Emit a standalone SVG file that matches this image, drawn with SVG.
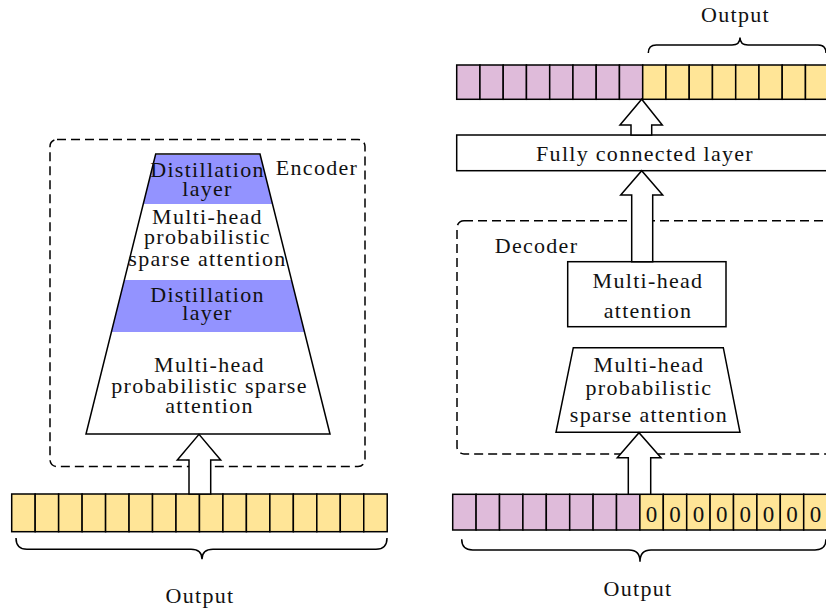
<svg xmlns="http://www.w3.org/2000/svg" width="826" height="612" viewBox="0 0 826 612">
<style>
text{font-family:"Liberation Serif","Times New Roman",serif;font-size:22px;fill:#111;text-anchor:middle;letter-spacing:1.3px}
.st{fill:none;stroke:#000;stroke-width:1.5}
.box{fill:#fff;stroke:#000;stroke-width:1.5}
.dash{fill:none;stroke:#000;stroke-width:1.5;stroke-dasharray:9 5}
.y{fill:#FFE597;stroke:#000;stroke-width:1.5}
.p{fill:#DFBBDA;stroke:#000;stroke-width:1.5}
.blue{fill:#9393FF}
.arr{fill:#fff;stroke:#000;stroke-width:1.5;stroke-linejoin:miter}
.br{fill:none;stroke:#000;stroke-width:1.5}
</style>
<defs>
<clipPath id="trapClip"><polygon points="155.7,154 260,154 330,434 86,434"/></clipPath>
</defs>

<g id="encoder">
<rect class="dash" x="50" y="139.5" width="315" height="327" rx="7"/>
<text x="317" y="175">Encoder</text>
</g>

<g id="decoder">
<rect class="dash" x="457" y="220.7" width="400" height="233.3" rx="7"/>
<text x="536.5" y="253.3">Decoder</text>
</g>

<g id="encoder-stack">
<polygon points="155.7,154 260,154 330,434 86,434" fill="#fff"/>
<g clip-path="url(#trapClip)">
<rect class="blue" x="80" y="155" width="260" height="49"/>
<rect class="blue" x="80" y="280" width="260" height="52"/>
</g>
<polygon class="st" points="155.7,154 260,154 330,434 86,434"/>
<text x="207.5" y="176.7">Distillation</text>
<text x="207.5" y="195.7">layer</text>
<text x="207.5" y="224.3">Multi-head</text>
<text x="207.5" y="244.3">probabilistic</text>
<text x="207.5" y="266">sparse attention</text>
<text x="207.5" y="301.7">Distillation</text>
<text x="207.5" y="320">layer</text>
<text x="209.5" y="371.7">Multi-head</text>
<text x="209.5" y="393.3">probabilistic sparse</text>
<text x="209.5" y="412.7">attention</text>
</g>

<g id="left-input">
<rect class="y" x="11.7" y="494" width="23.47" height="37.7"/>
<rect class="y" x="35.17" y="494" width="23.47" height="37.7"/>
<rect class="y" x="58.64" y="494" width="23.47" height="37.7"/>
<rect class="y" x="82.11" y="494" width="23.47" height="37.7"/>
<rect class="y" x="105.58" y="494" width="23.47" height="37.7"/>
<rect class="y" x="129.05" y="494" width="23.47" height="37.7"/>
<rect class="y" x="152.52" y="494" width="23.47" height="37.7"/>
<rect class="y" x="175.99" y="494" width="23.47" height="37.7"/>
<rect class="y" x="199.46" y="494" width="23.47" height="37.7"/>
<rect class="y" x="222.93" y="494" width="23.47" height="37.7"/>
<rect class="y" x="246.4" y="494" width="23.47" height="37.7"/>
<rect class="y" x="269.87" y="494" width="23.47" height="37.7"/>
<rect class="y" x="293.34" y="494" width="23.47" height="37.7"/>
<rect class="y" x="316.81" y="494" width="23.47" height="37.7"/>
<rect class="y" x="340.28" y="494" width="23.47" height="37.7"/>
<rect class="y" x="363.75" y="494" width="23.47" height="37.7"/>
<text x="200" y="603.3">Output</text>
</g>

<g id="top-output">
<rect class="p" x="456.7" y="65" width="23.25" height="34.3"/>
<rect class="p" x="479.95" y="65" width="23.25" height="34.3"/>
<rect class="p" x="503.2" y="65" width="23.25" height="34.3"/>
<rect class="p" x="526.45" y="65" width="23.25" height="34.3"/>
<rect class="p" x="549.7" y="65" width="23.25" height="34.3"/>
<rect class="p" x="572.95" y="65" width="23.25" height="34.3"/>
<rect class="p" x="596.2" y="65" width="23.25" height="34.3"/>
<rect class="p" x="619.45" y="65" width="23.25" height="34.3"/>
<rect class="y" x="642.7" y="65" width="23.25" height="34.3"/>
<rect class="y" x="665.95" y="65" width="23.25" height="34.3"/>
<rect class="y" x="689.2" y="65" width="23.25" height="34.3"/>
<rect class="y" x="712.45" y="65" width="23.25" height="34.3"/>
<rect class="y" x="735.7" y="65" width="23.25" height="34.3"/>
<rect class="y" x="758.95" y="65" width="23.25" height="34.3"/>
<rect class="y" x="782.2" y="65" width="23.25" height="34.3"/>
<rect class="y" x="805.45" y="65" width="23.25" height="34.3"/>
<text x="735.5" y="22.3">Output</text>
</g>

<g id="fully-connected">
<rect class="box" x="456.7" y="135" width="375" height="35.7"/>
<text x="645" y="160.7">Fully connected layer</text>
</g>

<g id="multi-head-attention">
<rect class="box" x="567.7" y="261.7" width="158.3" height="65"/>
<text x="648" y="288.3">Multi-head</text>
<text x="648" y="318.3">attention</text>
</g>

<g id="decoder-sparse-attention">
<polygon class="box" points="573.3,347.7 723.3,347.7 740,432.3 556,432.3"/>
<text x="649" y="371.7">Multi-head</text>
<text x="649" y="395">probabilistic</text>
<text x="649" y="421.7">sparse attention</text>
</g>

<g id="decoder-input">
<rect class="p" x="452.7" y="494.3" width="23.4" height="35.7"/>
<rect class="p" x="476.1" y="494.3" width="23.4" height="35.7"/>
<rect class="p" x="499.5" y="494.3" width="23.4" height="35.7"/>
<rect class="p" x="522.9" y="494.3" width="23.4" height="35.7"/>
<rect class="p" x="546.3" y="494.3" width="23.4" height="35.7"/>
<rect class="p" x="569.7" y="494.3" width="23.4" height="35.7"/>
<rect class="p" x="593.1" y="494.3" width="23.4" height="35.7"/>
<rect class="p" x="616.5" y="494.3" width="23.4" height="35.7"/>
<rect class="y" x="639.9" y="494.3" width="23.4" height="35.7"/>
<rect class="y" x="663.3" y="494.3" width="23.4" height="35.7"/>
<rect class="y" x="686.7" y="494.3" width="23.4" height="35.7"/>
<rect class="y" x="710.1" y="494.3" width="23.4" height="35.7"/>
<rect class="y" x="733.5" y="494.3" width="23.4" height="35.7"/>
<rect class="y" x="756.9" y="494.3" width="23.4" height="35.7"/>
<rect class="y" x="780.3" y="494.3" width="23.4" height="35.7"/>
<rect class="y" x="803.7" y="494.3" width="23.4" height="35.7"/>
<g style="letter-spacing:0">
<text x="651.6" y="521.7" style="letter-spacing:0;font-size:23px">0</text>
<text x="675" y="521.7" style="letter-spacing:0;font-size:23px">0</text>
<text x="698.4" y="521.7" style="letter-spacing:0;font-size:23px">0</text>
<text x="721.8" y="521.7" style="letter-spacing:0;font-size:23px">0</text>
<text x="745.2" y="521.7" style="letter-spacing:0;font-size:23px">0</text>
<text x="768.6" y="521.7" style="letter-spacing:0;font-size:23px">0</text>
<text x="792" y="521.7" style="letter-spacing:0;font-size:23px">0</text>
<text x="815.4" y="521.7" style="letter-spacing:0;font-size:23px">0</text>
</g>
<text x="638" y="596">Output</text>
</g>

<g id="connectors">
<polygon class="arr" points="189,494 189,460 177.3,460 199,434.3 220.7,460 210.7,460 210.7,494"/>
<polygon class="arr" points="628.3,494.3 628.3,457.7 617.3,457.7 639,432.7 661,457.7 650.7,457.7 650.7,494.3"/>
<polygon class="arr" points="631.7,261.7 631.7,195 620.7,195 641.7,170.7 662.7,195 652.7,195 652.7,261.7"/>
<polygon class="arr" points="631,135 631,125 620,125 641.7,99.3 662.3,125 651.7,125 651.7,135"/>
<path class="br" d="M16,538 Q16,549.3 27,549.3 L191,549.3 Q202,549.3 202,559.3 Q202,549.3 213,549.3 L376,549.3 Q387,549.3 387,538"/>
<path class="br" d="M461.7,539.3 Q461.7,550 472.7,550 L629,550 Q640,550 640,561.7 Q640,550 651,550 L815,550 Q826,550 826,539.3"/>
<path class="br" d="M648.3,53 Q648.3,45 656.3,45 L732,45 Q740,45 740,37.5 Q740,45 748,45 L818,45 Q826,45 826,53"/>
</g>
</svg>
